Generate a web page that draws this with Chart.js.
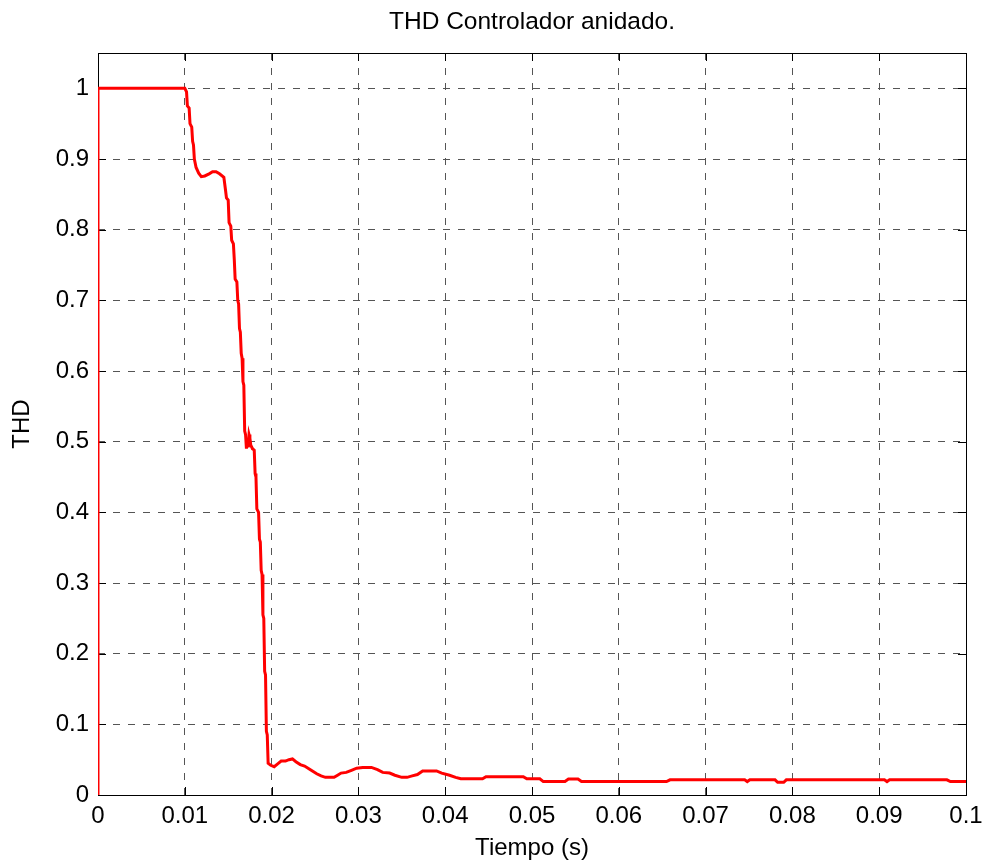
<!DOCTYPE html>
<html>
<head>
<meta charset="utf-8">
<script src="https://cdn.jsdelivr.net/npm/chart.js@4.4.1/dist/chart.umd.min.js"></script>
<style>
  html, body { margin: 0; padding: 0; background: #fff; }
  #wrap { width: 985px; height: 867px; }
</style>
</head>
<body>
<div id="wrap"><canvas id="myChart"></canvas></div>
<script>
// time (s) and THD
const times = [
    0, 0, 0.0100, 0.0102, 0.0103, 0.0105, 0.0106, 0.0108, 0.0109, 0.0110,
    0.0111, 0.0113, 0.0116, 0.0119, 0.0123, 0.0128, 0.0132, 0.0136, 0.0140, 0.0145,
    0.0147, 0.0148, 0.0150, 0.0151, 0.0153, 0.0154, 0.0156, 0.0157, 0.0158, 0.0160,
    0.0161, 0.0162, 0.0163, 0.0164, 0.0165, 0.0166, 0.0167, 0.0168, 0.0169, 0.0170,
    0.0171, 0.0172, 0.0173, 0.0174, 0.0175, 0.0176, 0.0178, 0.0180, 0.0181, 0.0182,
    0.0183, 0.0185, 0.0186, 0.0187, 0.0188, 0.0189, 0.0190, 0.0191, 0.0192, 0.0193,
    0.0194, 0.0195, 0.0196, 0.0199, 0.0203, 0.0207, 0.0211, 0.0216, 0.0220, 0.0224,
    0.0228, 0.0233, 0.0238, 0.0242, 0.0247, 0.0252, 0.0257, 0.0262, 0.0272, 0.0276,
    0.0280, 0.0286, 0.0292, 0.0298, 0.0305, 0.0315, 0.0322, 0.0328, 0.0336, 0.0342,
    0.0350, 0.0356, 0.0362, 0.0368, 0.0374, 0.0390, 0.0396, 0.0405, 0.0412, 0.0418,
    0.0443, 0.0447, 0.0490, 0.0494, 0.0509, 0.0513, 0.0538, 0.0542, 0.0553, 0.0557,
    0.0655, 0.0659, 0.0745, 0.0748, 0.0751, 0.0780, 0.0783, 0.0790, 0.0793, 0.0906,
    0.0909, 0.0912, 0.0978, 0.0982, 0.1000
];
const thd = [
    0, 1, 1, 0.995, 0.975, 0.972, 0.950, 0.945, 0.925, 0.920,
    0.900, 0.888, 0.880, 0.875, 0.876, 0.879, 0.882, 0.882, 0.879, 0.874,
    0.855, 0.845, 0.842, 0.810, 0.805, 0.785, 0.780, 0.758, 0.730, 0.726,
    0.700, 0.695, 0.660, 0.655, 0.625, 0.618, 0.585, 0.580, 0.515, 0.510,
    0.490, 0.505, 0.492, 0.510, 0.505, 0.495, 0.490, 0.488, 0.455, 0.450,
    0.405, 0.400, 0.362, 0.358, 0.318, 0.312, 0.255, 0.250, 0.175, 0.170,
    0.090, 0.085, 0.045, 0.042, 0.040, 0.044, 0.048, 0.048, 0.050, 0.051,
    0.047, 0.043, 0.041, 0.038, 0.034, 0.030, 0.027, 0.025, 0.025, 0.028,
    0.031, 0.032, 0.035, 0.038, 0.039, 0.039, 0.036, 0.032, 0.031, 0.028,
    0.025, 0.025, 0.027, 0.029, 0.034, 0.034, 0.031, 0.028, 0.025, 0.023,
    0.023, 0.026, 0.026, 0.023, 0.023, 0.019, 0.019, 0.0225, 0.0225, 0.019,
    0.019, 0.0215, 0.0215, 0.019, 0.0215, 0.0215, 0.018, 0.018, 0.0215, 0.0215,
    0.019, 0.0215, 0.0215, 0.019, 0.019
];

const FONT = 'Arial, "Liberation Sans", Helvetica, sans-serif';

const points = times.map((t, i) => ({ x: t, y: thd[i] }));

// black box with inward tick marks on all four sides (matlab style)
const boxPlugin = {
    id: 'boxPlugin',
    beforeDatasetsDraw(chart) {
        const { ctx, chartArea: a, scales } = chart;
        const len = 8;
        ctx.save();
        ctx.strokeStyle = '#000';
        ctx.lineWidth = 1;
        ctx.setLineDash([]);
        ctx.beginPath();
        for (const tick of scales.x.ticks) {
            const px = Math.round(scales.x.getPixelForValue(tick.value)) + 0.5;
            ctx.moveTo(px, a.bottom); ctx.lineTo(px, a.bottom - len);
            ctx.moveTo(px, a.top); ctx.lineTo(px, a.top + len);
        }
        for (const tick of scales.y.ticks) {
            const py = Math.round(scales.y.getPixelForValue(tick.value)) + 0.5;
            ctx.moveTo(a.left, py); ctx.lineTo(a.left + len, py);
            ctx.moveTo(a.right, py); ctx.lineTo(a.right - len, py);
        }
        ctx.stroke();
        ctx.strokeRect(Math.round(a.left) + 0.5, Math.round(a.top) + 0.5,
            Math.round(a.right - a.left), Math.round(a.bottom - a.top));
        ctx.restore();
    }
};

const config = {
    type: 'line',
    data: {
        datasets: [{
            label: 'THD',
            data: points,
            borderColor: '#ff0000',
            borderWidth: 3,
            pointRadius: 0,
            tension: 0,
            fill: false
        }]
    },
    options: {
        responsive: true,
        maintainAspectRatio: false,
        animation: false,
        events: [],
        layout: {
            padding: { left: 0, right: 19, top: 0, bottom: 0 }
        },
        scales: {
            x: {
                type: 'linear',
                min: 0,
                max: 0.1,
                afterFit: (scale) => {
                    scale.height = 72;
                    scale.paddingLeft = 0;
                    scale.paddingRight = 0;
                },
                ticks: {
                    stepSize: 0.01,
                    padding: 7,
                    color: '#000',
                    maxRotation: 0,
                    autoSkip: false,
                    font: { family: FONT, size: 24 },
                    callback: (v) => String(+v.toFixed(2))
                },
                grid: {
                    color: '#555555',
                    lineWidth: 1,
                    drawTicks: false
                },
                border: { display: false, dash: [7, 8] },
                title: {
                    display: true,
                    text: 'Tiempo (s)',
                    color: '#000',
                    font: { family: FONT, size: 24 },
                    padding: { top: 0, bottom: 4 }
                }
            },
            y: {
                type: 'linear',
                min: 0,
                max: 1.05,
                afterFit: (scale) => { scale.width = 98; },
                ticks: {
                    stepSize: 0.1,
                    includeBounds: false,
                    padding: 9,
                    color: '#000',
                    font: { family: FONT, size: 24 },
                    callback: (v) => String(+v.toFixed(2))
                },
                grid: {
                    color: '#555555',
                    lineWidth: 1,
                    drawTicks: false
                },
                border: { display: false, dash: [7, 8] },
                title: {
                    display: true,
                    text: 'THD',
                    color: '#000',
                    font: { family: FONT, size: 24 },
                    padding: { top: 8, bottom: 0 }
                }
            }
        },
        plugins: {
            legend: { display: false },
            tooltip: { enabled: false },
            title: {
                display: true,
                fullSize: false,
                text: 'THD Controlador anidado.',
                color: '#000',
                font: { family: FONT, size: 24.5, weight: 'normal' },
                padding: { top: 8, bottom: 15.6 }
            }
        }
    },
    plugins: [boxPlugin]
};

const chart = new Chart(document.getElementById('myChart'), config);
</script>
</body>
</html>
